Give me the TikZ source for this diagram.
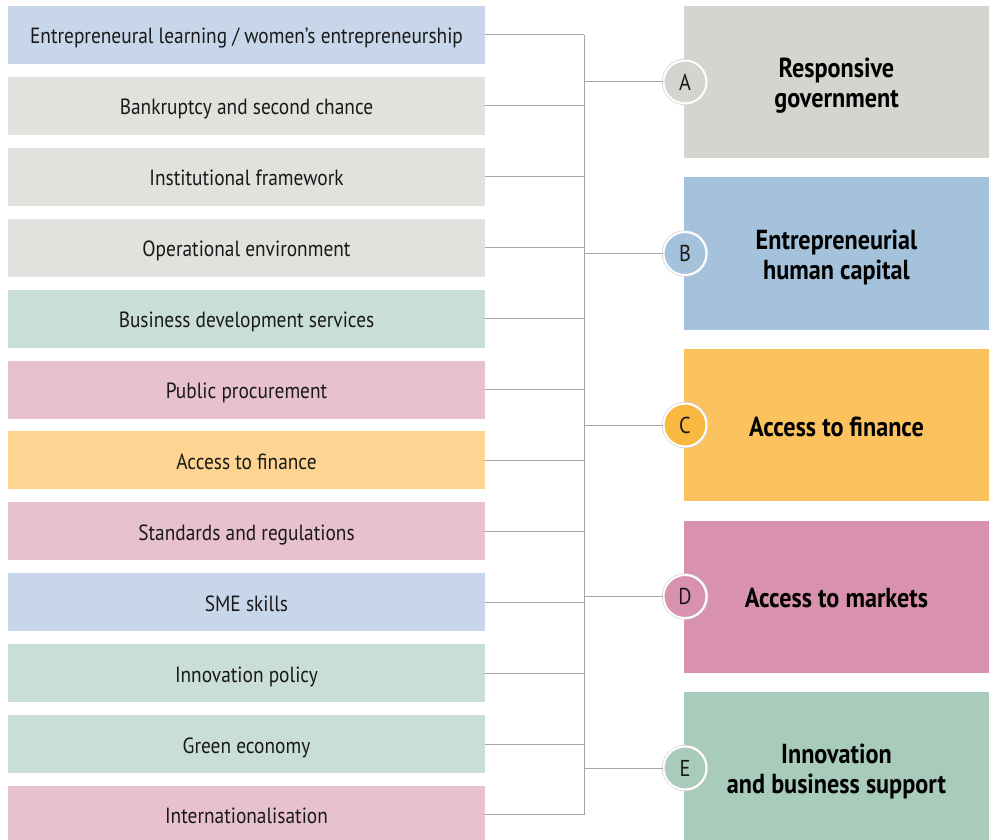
\documentclass[tikz,border=0pt]{standalone}
\usepackage{fontspec}
\setmainfont{PT Sans}[FakeStretch=0.88]
\definecolor{lblue}{RGB}{199,215,233}
\definecolor{lgray}{RGB}{224,226,221}
\definecolor{lgreen}{RGB}{201,222,212}
\definecolor{lpink}{RGB}{232,193,208}
\definecolor{lorange}{RGB}{253,212,145}
\definecolor{rgray}{RGB}{211,214,207}
\definecolor{rblue}{RGB}{164,194,220}
\definecolor{rorange}{RGB}{252,194,94}
\definecolor{rpink}{RGB}{217,146,174}
\definecolor{rgreen}{RGB}{168,203,187}
\definecolor{corange}{RGB}{249,184,64}
\definecolor{linegray}{RGB}{165,165,165}
\tikzset{
  leftbox/.style={rectangle, inner sep=0pt, minimum width=477pt, minimum height=58pt,
    text height=20pt, text depth=2pt,
    font=\fontsize{22}{26}\selectfont, text=black!90},
  rightbox/.style={rectangle, inner sep=0pt, minimum width=305pt, minimum height=152pt},
  righttext/.style={inner sep=0pt, font=\fontsize{27.5}{30}\selectfont\bfseries,
    align=center, text=black},
  badge/.style={circle, inner sep=0pt, minimum size=43pt, draw=white, line width=2pt,
    preaction={draw=black!18, line width=3.4pt},
    font=\fontsize{23}{26}\selectfont, text=black!90},
  conn/.style={draw=linegray, line width=1pt}
}
\begin{document}
\begin{tikzpicture}[x=1pt, y=-1pt]
\useasboundingbox (0,0) rectangle (989,840);
% left boxes
\foreach \i/\c/\t in {
  0/lblue/{Entrepreneural learning / women’s entrepreneurship},
  1/lgray/{Bankruptcy and second chance},
  2/lgray/{Institutional framework},
  3/lgray/{Operational environment},
  4/lgreen/{Business development services},
  5/lpink/{Public procurement},
  6/lorange/{Access to finance},
  7/lpink/{Standards and regulations},
  8/lblue/{SME skills},
  9/lgreen/{Innovation policy},
  10/lgreen/{Green economy},
  11/lpink/{Internationalisation}}{
  \node[leftbox, fill=\c] (L\i) at (246.5, {35+70.9*\i}) {\t};
}
% right boxes
\node[rightbox, fill=rgray]   (RA) at (836.5, 82)    {};
\node[rightbox, fill=rblue]   (RB) at (836.5, 253.5) {};
\node[rightbox, fill=rorange] (RC) at (836.5, 425)   {};
\node[rightbox, fill=rpink]   (RD) at (836.5, 596.5) {};
\node[rightbox, fill=rgreen]  (RE) at (836.5, 768)   {};
\node[righttext] (TA) at ([yshift=-3.5pt]RA.center) {Responsive\\government};
\node[righttext] (TB) at ([yshift=-3.5pt]RB.center) {Entrepreneurial\\human capital};
\node[righttext] (TC) at ([yshift=-1.5pt]RC.center) {Access to finance};
\node[righttext] (TD) at ([yshift=-1.5pt]RD.center) {Access to markets};
\node[righttext] (TE) at ([yshift=-3.5pt]RE.center) {Innovation\\and business support};
% bus
\coordinate (busTop) at (584, 35);
\coordinate (busBot) at (584, {35+70.9*11});
\draw[conn] (busTop) -- (busBot);
\foreach \i in {0,...,11}{
  \draw[conn] (L\i.east) -- (L\i.east -| busTop);
}
% badges
\node[badge, fill=rgray]   (CA) at (685, 82)    {A};
\node[badge, fill=rblue]   (CB) at (685, 253.5) {B};
\node[badge, fill=corange] (CC) at (685, 425)   {C};
\node[badge, fill=rpink]   (CD) at (685, 596.5) {D};
\node[badge, fill=rgreen]  (CE) at (685, 768)   {E};
\foreach \n in {A,B,C,D,E}{
  \draw[conn] (C\n.west -| busTop) -- (C\n.west);
}
\end{tikzpicture}
\end{document}
